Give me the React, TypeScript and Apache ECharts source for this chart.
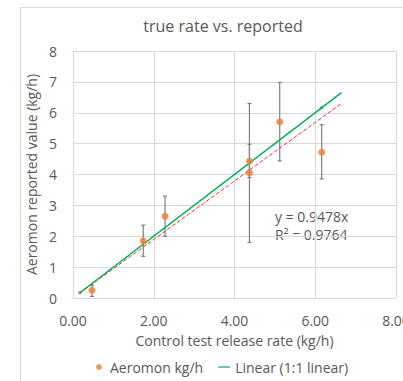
import React, { useEffect, useRef } from "react";
import * as echarts from "echarts";

const titleText = "true rate vs. reported";
const xName = "Control test release rate (kg/h)";
const yName = "Aeromon reported value (kg/h)";
const seriesName = "Aeromon kg/h";
const lineName = "Linear (1:1 linear)";

// Aeromon points: control rate (x), reported (y)
const ctrlRate = [0.47, 1.74, 2.28, 4.37, 4.37, 5.12, 6.16];
const reported = [0.25, 1.85, 2.65, 4.44, 4.06, 5.71, 4.72];
const errLow = [0.05, 1.35, 2.0, 3.9, 1.8, 4.44, 3.86];
const errHigh = [0.42, 2.36, 3.3, 4.98, 6.3, 6.98, 5.61];

// 1:1 reference points
const oneToOneX = [0.17, 6.16];
// trendline x-range
const trendX = [0.17, 6.65];
const fitSlope = 0.9478;
const fitText = ["y = 0.9478x", "R² = 0.9764"];

const xTicks = [0, 2, 4, 6, 8];
const yTicks = [0, 1, 2, 3, 4, 5, 6, 7, 8];

const GRAY = "#595959";
const FONT = "'Open Sans', sans-serif";

export default function App() {
  const ref = useRef<HTMLDivElement>(null);
  useEffect(() => {
    document.body.style.margin = "0";
    const chart = echarts.init(ref.current!, null, { renderer: "svg" });
    const pts = ctrlRate.map((x, i) => [x, reported[i]]);
    const errs = ctrlRate.map((x, i) => [x, errLow[i], errHigh[i]]);
    chart.setOption({
      animation: false,
      textStyle: { fontFamily: FONT },
      title: {
        text: titleText,
        left: 218,
        textAlign: "center",
        top: 13,
        textStyle: { fontSize: 16, fontWeight: "normal", color: GRAY, fontFamily: FONT },
      },
      graphic: [
        {
          type: "rect",
          shape: { x: 20.5, y: 7.5, width: 420, height: 420 },
          style: { fill: "none", stroke: "#d9d9d9", lineWidth: 1 },
          silent: true,
          z: -1,
        },
        {
          type: "text",
          left: 275,
          top: 207,
          style: {
            text: fitText.join("\n"),
            fill: GRAY,
            fontSize: 14,
            fontFamily: FONT,
            lineHeight: 18,
          },
        },
      ],
      grid: {
        left: 73,
        right: 7,
        top: 51,
        bottom: 83,
        containLabel: false,
        outerBoundsMode: "none",
      },
      legend: {
        bottom: 2,
        left: 91,
        itemGap: 15,
        itemWidth: 12,
        itemHeight: 6,
        textStyle: { color: GRAY, fontSize: 14, fontFamily: FONT },
        data: [
          { name: seriesName, icon: "circle" },
          { name: lineName, icon: "path://M0,0H16V1.6H0Z" },
        ],
      },
      xAxis: {
        type: "value",
        min: xTicks[0],
        max: xTicks[xTicks.length - 1],
        interval: 2,
        name: xName,
        nameLocation: "middle",
        nameGap: 35,
        nameTextStyle: { color: GRAY, fontSize: 14, fontFamily: FONT },
        axisLine: { show: false },
        axisTick: { show: false },
        axisLabel: {
          color: GRAY,
          fontSize: 14,
          margin: 15,
          formatter: (v: number) => v.toFixed(2),
        },
        splitLine: { lineStyle: { color: "#d9d9d9" } },
      },
      yAxis: {
        type: "value",
        min: yTicks[0],
        max: yTicks[yTicks.length - 1],
        interval: 1,
        name: yName,
        nameLocation: "middle",
        nameGap: 27,
        nameTextStyle: { color: GRAY, fontSize: 14, fontFamily: FONT },
        axisLine: { show: false },
        axisTick: { show: false },
        axisLabel: { color: GRAY, fontSize: 14, margin: 16 },
        splitLine: { lineStyle: { color: "#d9d9d9" } },
      },
      series: [
        {
          name: "errors",
          type: "custom",
          data: errs,
          z: 2,
          silent: true,
          renderItem: (params: any, api: any) => {
            const lo = api.coord([api.value(0), api.value(1)]);
            const hi = api.coord([api.value(0), api.value(2)]);
            const c = 2;
            const st = { stroke: "#7f7f7f", lineWidth: 1.2 };
            return {
              type: "group",
              children: [
                { type: "line", shape: { x1: lo[0], y1: lo[1], x2: hi[0], y2: hi[1] }, style: st },
                { type: "line", shape: { x1: lo[0] - c, y1: lo[1], x2: lo[0] + c, y2: lo[1] }, style: st },
                { type: "line", shape: { x1: hi[0] - c, y1: hi[1], x2: hi[0] + c, y2: hi[1] }, style: st },
              ],
            };
          },
        },
        {
          name: "1:1 linear",
          type: "scatter",
          data: oneToOneX.map((x) => [x, x]),
          symbol: "rect",
          symbolSize: 3,
          itemStyle: { color: "#7f7f7f" },
          z: 3,
        },
        {
          name: "fit",
          type: "line",
          data: trendX.map((x) => [x, x * fitSlope]),
          showSymbol: false,
          lineStyle: { color: "#ff3030", width: 1, type: [4, 2] },
          z: 4,
        },
        {
          name: lineName,
          type: "line",
          data: trendX.map((x) => [x, x]),
          showSymbol: false,
          itemStyle: { color: "#00b050" },
          lineStyle: { color: "#00b050", width: 1.5 },
          z: 5,
        },
        {
          name: seriesName,
          type: "scatter",
          data: pts,
          symbolSize: 7,
          itemStyle: { color: "#ed7d31" },
          z: 6,
        },
      ],
    });
    return () => chart.dispose();
  }, []);
  return <div ref={ref} style={{ width: 403, height: 381 }} />;
}
